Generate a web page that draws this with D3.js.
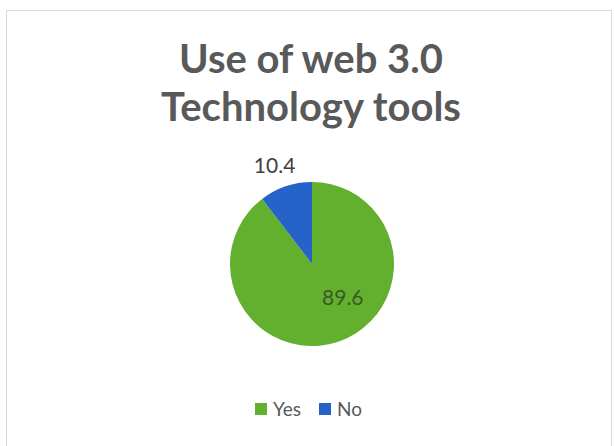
<!DOCTYPE html>
<html>
<head>
<meta charset="utf-8">
<script src="https://cdn.jsdelivr.net/npm/d3@7"></script>
<style>
  html, body { margin: 0; padding: 0; background: #fff; }
  svg { display: block; }
</style>
</head>
<body>
<svg id="chart" width="614" height="446"></svg>
<script>
// Survey responses (percent)
const categories = ["Yes", "No"];
const values = [89.6, 10.4];
const colors = ["#63b02f", "#2563c8"];
const titleLines = ["Use of web 3.0", "Technology tools"];

const svg = d3.select("#chart");
const font = "Lato, 'Open Sans', sans-serif";

// chart frame
svg.append("rect")
  .attr("x", 6.5).attr("y", 10.5)
  .attr("width", 605).attr("height", 440)
  .attr("fill", "#fff")
  .attr("stroke", "#d9d9d9").attr("stroke-width", 1);

// title
svg.append("g").selectAll("text")
  .data(titleLines)
  .join("text")
  .attr("x", 311)
  .attr("y", (d, i) => 73 + i * 48)
  .attr("text-anchor", "middle")
  .attr("font-family", font)
  .attr("font-weight", "bold")
  .attr("font-size", 40)
  .attr("fill", "#595959")
  .text(d => d);

// pie, clockwise from 12 o'clock
const cx = 312, cy = 264, r = 82;
const data = categories.map((c, i) => ({ name: c, value: values[i], color: colors[i] }));
const pie = d3.pie().sort(null).value(d => d.value)
  .startAngle(0).endAngle(2 * Math.PI);
const arcs = pie(data);
const arc = d3.arc().innerRadius(0).outerRadius(r);

const g = svg.append("g").attr("transform", `translate(${cx},${cy})`);
g.selectAll("path")
  .data(arcs)
  .join("path")
  .attr("d", arc)
  .attr("fill", d => d.data.color);

// data labels: large slice inside, small slice outside
const inner = d3.arc().innerRadius(r * 0.6).outerRadius(r * 0.6);
const outer = d3.arc().innerRadius(r * 1.27).outerRadius(r * 1.27);
const labelShift = { Yes: [15, -13], No: [-4, 0] };
g.selectAll("text.lbl")
  .data(arcs)
  .join("text")
  .attr("class", "lbl")
  .attr("transform", d => {
    const p = d.data.name === "Yes" ? inner.centroid(d) : outer.centroid(d);
    const s = labelShift[d.data.name];
    return `translate(${p[0] + s[0]},${p[1] + s[1]})`;
  })
  .attr("text-anchor", "middle")
  .attr("dy", "0.36em")
  .attr("font-family", font)
  .attr("font-size", 21)
  .attr("fill", d => d.data.name === "Yes" ? "#3a5a24" : "#404040")
  .text(d => d.data.value);

// legend
const legend = svg.append("g").attr("transform", "translate(255,403)");
const items = legend.selectAll("g")
  .data(data)
  .join("g")
  .attr("transform", (d, i) => `translate(${i * 64},0)`);
items.append("rect")
  .attr("width", 12).attr("height", 12)
  .attr("fill", d => d.color);
items.append("text")
  .attr("x", 18).attr("y", 13)
  .attr("font-family", font)
  .attr("font-size", 19)
  .attr("fill", "#595959")
  .text(d => d.name);
</script>
</body>
</html>
